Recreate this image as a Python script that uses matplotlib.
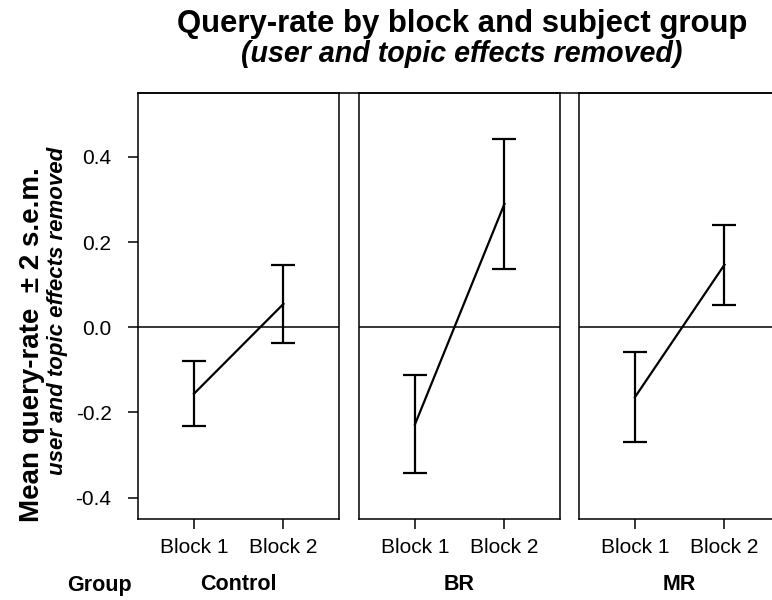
import matplotlib
matplotlib.use("Agg")
import matplotlib.pyplot as plt
from matplotlib.lines import Line2D

plt.rcParams["font.family"] = ["Liberation Sans", "DejaVu Sans"]
plt.rcParams["axes.unicode_minus"] = False

# mean query-rate per block and group, with +/- 2 s.e.m.
groups = ["Control", "BR", "MR"]
blocks = ["Block 1", "Block 2"]
control_mean = [-0.156, 0.055]
control_err = [0.076, 0.092]
br_mean = [-0.228, 0.290]
br_err = [0.115, 0.152]
mr_mean = [-0.164, 0.147]
mr_err = [0.106, 0.094]
y_ticks = [-0.4, -0.2, 0.0, 0.2, 0.4]

means = [control_mean, br_mean, mr_mean]
errs = [control_err, br_err, mr_err]

fig = plt.figure(figsize=(7.72, 6.0), dpi=100)

W, H = 772.0, 600.0
lefts = [138, 359, 579]
pw = 201
top, bottom = 93, 519

x = [1, 2]
axes = []
for i, g in enumerate(groups):
    ax = fig.add_axes([lefts[i] / W, 1 - bottom / H, pw / W, (bottom - top) / H])
    axes.append(ax)
    ax.axhline(0, color="black", lw=1.1, zorder=1)
    ax.errorbar(x, means[i], yerr=errs[i], color="black", lw=1.6,
                elinewidth=1.6, capsize=8.5, capthick=1.6, zorder=3)
    ax.set_xlim(0.375, 2.62)
    ax.set_ylim(-0.45, 0.55)
    ax.set_xticks(x)
    ax.set_xticklabels(blocks, fontsize=15)
    ax.tick_params(axis="x", direction="out", length=7, width=1.1, pad=7)
    if i == 0:
        ax.set_yticks(y_ticks)
        ax.set_yticklabels(["%.1f" % v for v in y_ticks], fontsize=15)
        ax.tick_params(axis="y", direction="out", length=7, width=1.1, pad=12)
    else:
        ax.set_yticks([])
    for s in ax.spines.values():
        s.set_linewidth(1.1)
    # group name under each panel
    fig.text((lefts[i] + pw / 2) / W, 1 - 585 / H, g, fontsize=15.5,
             fontweight="bold", ha="center", va="center")

# top rule runs across all three panels
fig.add_artist(Line2D([lefts[0] / W, 1.0], [1 - top / H, 1 - top / H],
                      color="black", lw=1.1, transform=fig.transFigure))

fig.text(99 / W, 1 - 585 / H, "Group", fontsize=15.5, fontweight="bold",
         ha="center", va="center")

fig.text(462 / W, 1 - 32 / H, "Query-rate by block and subject group",
         fontsize=22.4, fontweight="bold", ha="center", va="baseline")
fig.text(462 / W, 1 - 62 / H, "(user and topic effects removed)",
         fontsize=20.6, fontweight="bold", style="italic", ha="center",
         va="baseline")

fig.text(32 / W, 1 - 345 / H, "Mean query-rate  \u00b1 2 s.e.m.", fontsize=20,
         fontweight="bold", rotation=90, ha="center", va="center")
fig.text(58 / W, 1 - 311 / H, "user and topic effects removed", fontsize=16,
         fontweight="bold", style="italic", rotation=90, ha="center", va="center")

fig.savefig("out.png", dpi=100)
